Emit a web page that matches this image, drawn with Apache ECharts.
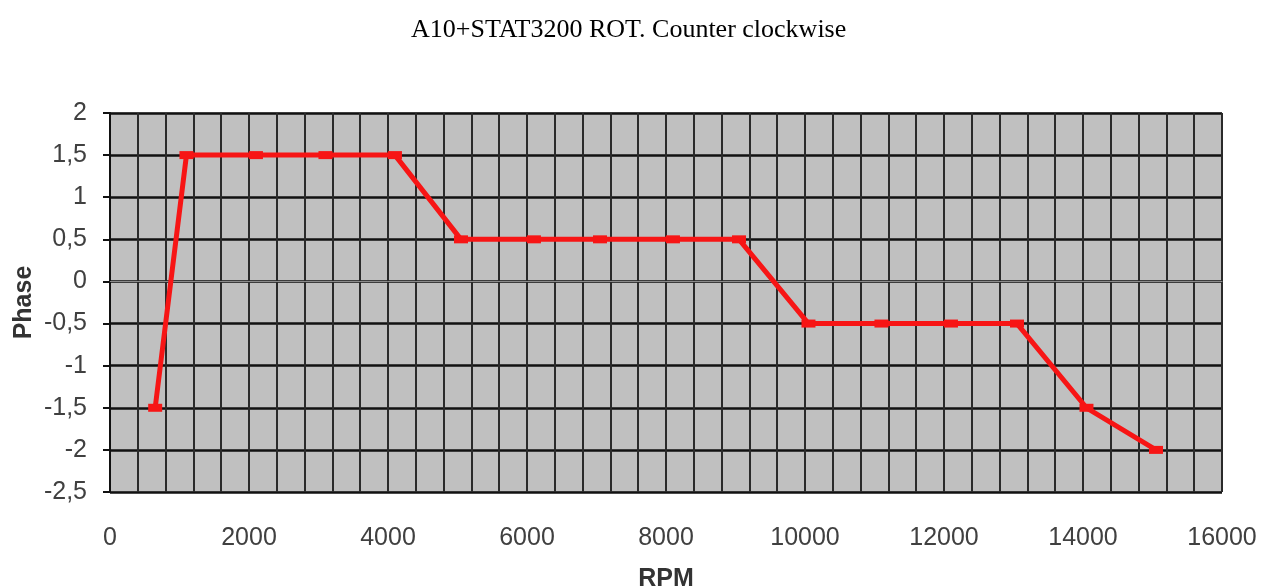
<!DOCTYPE html>
<html><head><meta charset="utf-8">
<script src="https://cdn.jsdelivr.net/npm/echarts@6/dist/echarts.min.js"></script>
<style>html,body{margin:0;padding:0;background:#fff}#c{width:1276px;height:587px}</style>
</head><body><div id="c"></div>
<script>
const rpm = [650, 1100, 2100, 3100, 4100, 5050, 6100, 7050, 8100, 9050, 10050, 11100, 12100, 13050, 14050, 15050];
const phase = [-1.5, 1.5, 1.5, 1.5, 1.5, 0.5, 0.5, 0.5, 0.5, 0.5, -0.5, -0.5, -0.5, -0.5, -1.5, -2];
const titleText = 'A10+STAT3200 ROT. Counter clockwise';

const chart = echarts.init(document.getElementById('c'), null, {renderer: 'canvas'});
chart.setOption({
  animation: false,
  backgroundColor: '#fff',
  title: {
    text: titleText, left: 406, top: 12,
    textStyle: {fontFamily: 'Liberation Serif', fontSize: 26, fontWeight: 'normal', color: '#000'}
  },
  grid: {left: 110, right: 54, top: 113, bottom: 95, outerBoundsMode: 'none', containLabel: false,
    show: true, backgroundColor: '#c0c0c0', borderColor: '#8a8a8a', borderWidth: 1},
  xAxis: {
    type: 'value', min: 0, max: 16000, interval: 2000,
    name: 'RPM', nameLocation: 'middle', nameGap: 75, nameMoveOverlap: false,
    nameTextStyle: {fontFamily: 'Liberation Sans', fontSize: 25, fontWeight: 'bold', color: '#333'},
    axisLine: {show: true, lineStyle: {color: '#8a8a8a', width: 1}},
    axisTick: {show: false},
    axisLabel: {margin: 34, fontFamily: 'Liberation Sans', fontSize: 25, color: '#404040',
      formatter: v => String(v)},
    splitLine: {show: true, lineStyle: {color: '#2a2a2a', width: 2}},
    minorTick: {show: false, splitNumber: 5},
    minorSplitLine: {show: true, lineStyle: {color: '#2a2a2a', width: 2}}
  },
  yAxis: {
    type: 'value', min: -2.5, max: 2, interval: 0.5,
    name: 'Phase', nameLocation: 'middle', nameGap: 73, nameMoveOverlap: false,
    nameTextStyle: {fontFamily: 'Liberation Sans', fontSize: 25, fontWeight: 'bold', color: '#333'},
    axisLine: {show: true, lineStyle: {color: '#111', width: 2}},
    axisTick: {show: true, inside: false, length: 7, lineStyle: {color: '#111', width: 2}},
    axisLabel: {margin: 23, fontFamily: 'Liberation Sans', fontSize: 25, color: '#404040',
      formatter: v => String(v).replace('.', ',')},
    splitLine: {show: true, lineStyle: {color: '#111', width: 2.5}}
  },
  series: [{
    type: 'line',
    data: rpm.map((x, i) => [x, phase[i]]),
    symbol: 'rect', symbolSize: [14, 8], showSymbol: true,
    itemStyle: {color: '#f71515'},
    lineStyle: {color: '#f71515', width: 5}
  }]
});
</script></body></html>
